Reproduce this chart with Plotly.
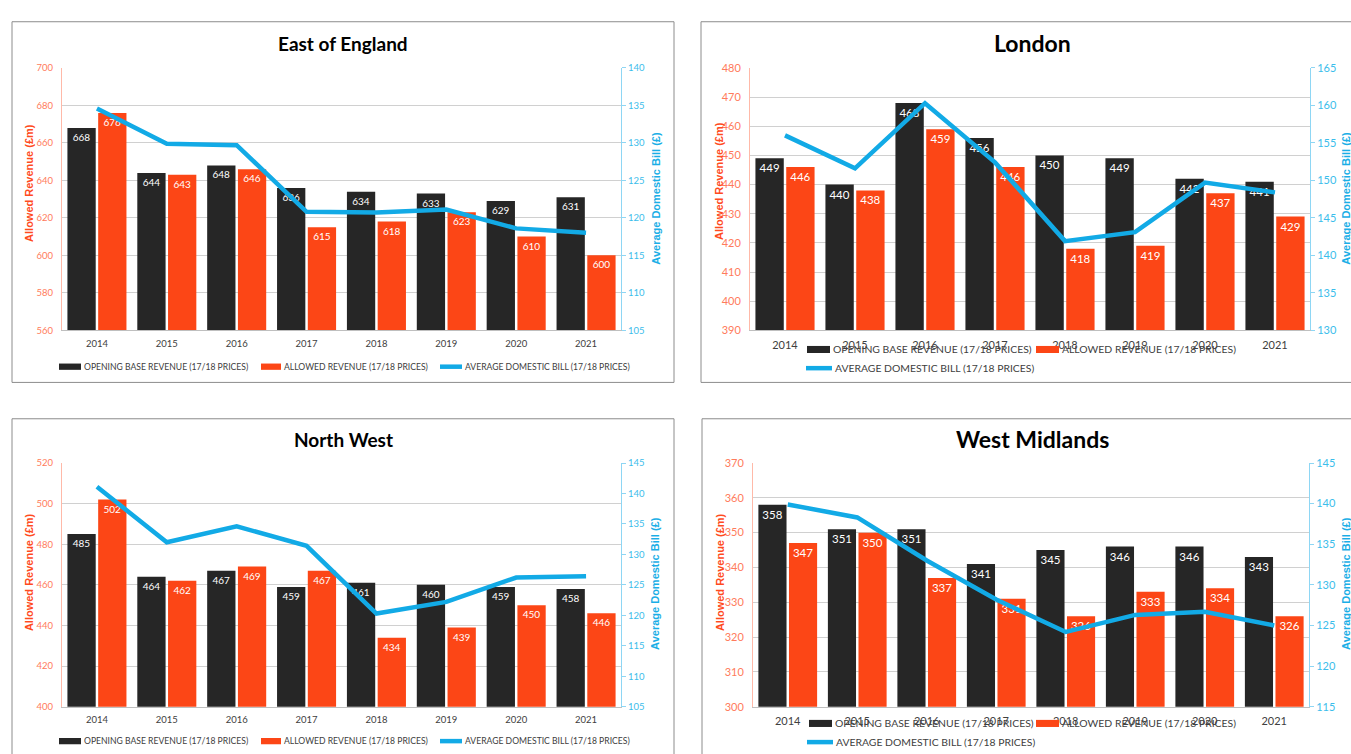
import plotly.graph_objects as go

# ---------------- data ----------------
years = ["2014", "2015", "2016", "2017", "2018", "2019", "2020", "2021"]

eoe_opening = [668, 644, 648, 636, 634, 633, 629, 631]
eoe_allowed = [676, 643, 646, 615, 618, 623, 610, 600]
eoe_bill = [134.6, 129.9, 129.7, 120.8, 120.7, 121.1, 118.6, 118.0]

lon_opening = [449, 440, 468, 456, 450, 449, 442, 441]
lon_allowed = [446, 438, 459, 446, 418, 419, 437, 429]
lon_bill = [156.0, 151.6, 160.3, 152.4, 141.9, 143.1, 149.7, 148.4]

nw_opening = [485, 464, 467, 459, 461, 460, 459, 458]
nw_allowed = [502, 462, 469, 467, 434, 439, 450, 446]
nw_bill = [141.1, 132.0, 134.6, 131.4, 120.3, 122.2, 126.2, 126.4]

wm_opening = [358, 351, 351, 341, 345, 346, 346, 343]
wm_allowed = [347, 350, 337, 331, 326, 333, 334, 326]
wm_bill = [139.9, 138.3, 133.0, 128.2, 124.2, 126.3, 126.7, 125.0]

titles = ["East of England", "London", "North West", "West Midlands"]
series_names = ["OPENING BASE REVENUE (17/18 PRICES)",
                "ALLOWED REVENUE (17/18 PRICES)",
                "AVERAGE DOMESTIC BILL (17/18 PRICES)"]
left_title = "Allowed Revenue (£m)"
right_title = "Average Domestic Bill (£)"

# ---------------- style ----------------
W, H = 1351, 754
NARROW = "Lato, Liberation Sans Narrow, DejaVu Sans Condensed, sans-serif"
SANS = "Liberation Sans, Arial, sans-serif"
C_BLACK = "#262626"
C_ORANGE = "#FC4616"
C_BLUE = "#12AAE6"
C_LTICK = "#FF7B5C"
C_LTITLE = "#FF4B1E"
C_RTICK = "#3BBDEB"
C_RTITLE = "#1AAEE6"
C_TEXT = "#404040"


def fx(px):
    return px / W


def fy(py):
    return 1 - py / H


panels = [
    dict(op=eoe_opening, al=eoe_allowed, bill=eoe_bill, lr=[560, 700], ldt=20, rr=[105, 140],
         box=(12, 15, 674, 382), area=(62, 62, 621, 329), title_xy=(343, 37),
         lt=(29, 179), rt=(656, 195), big=False,
         legend=[("bar", C_BLACK, 59, 81, 366, 82, 0), ("bar", C_ORANGE, 261, 281, 366, 282, 1),
                 ("line", C_BLUE, 440, 462, 366, 463, 2)]),
    dict(op=lon_opening, al=lon_allowed, bill=lon_bill, lr=[390, 480], ldt=10, rr=[130, 165],
         box=(701, 15, 1365, 382), area=(750, 62, 1310, 329), title_xy=(1032, 37),
         lt=(719, 177), rt=(1346, 195), big=True,
         legend=[("bar", C_BLACK, 807, 830, 348.5, 831, 0), ("bar", C_ORANGE, 1036, 1059, 348.5, 1060, 1),
                 ("line", C_BLUE, 806, 832, 367.5, 833, 2)]),
    dict(op=nw_opening, al=nw_allowed, bill=nw_bill, lr=[400, 520], ldt=20, rr=[105, 145],
         box=(12, 419, 674, 770), area=(62, 464, 621, 712), title_xy=(343, 440),
         lt=(29, 575), rt=(655, 587), big=False,
         legend=[("bar", C_BLACK, 59, 81, 747, 82, 0), ("bar", C_ORANGE, 261, 281, 747, 282, 1),
                 ("line", C_BLUE, 440, 462, 747, 463, 2)]),
    dict(op=wm_opening, al=wm_allowed, bill=wm_bill, lr=[300, 370], ldt=10, rr=[115, 145],
         box=(702, 419, 1365, 770), area=(753, 464, 1309, 712), title_xy=(1032, 440),
         lt=(720, 575), rt=(1346, 587), big=True,
         legend=[("bar", C_BLACK, 809, 832, 729, 833, 0), ("bar", C_ORANGE, 1036, 1059, 729, 1060, 1),
                 ("line", C_BLUE, 807, 833, 748, 834, 2)]),
]

fig = go.Figure()
layout = dict(
    width=W, height=H, autosize=False,
    margin=dict(l=0, r=0, t=0, b=0),
    paper_bgcolor="white", plot_bgcolor="white",
    barmode="group", bargap=0.12, bargroupgap=0.08,
    showlegend=False,
    shapes=[], annotations=[],
)

for i, p in enumerate(panels, start=1):
    xr = "x" if i == 1 else f"x{i}"
    nl, nr = 2 * i - 1, 2 * i
    ylr = "y" if nl == 1 else f"y{nl}"
    yrr = f"y{nr}"
    xkey = "xaxis" if i == 1 else f"xaxis{i}"
    ylkey = "yaxis" if nl == 1 else f"yaxis{nl}"
    yrkey = f"yaxis{nr}"
    big = p["big"]
    tick_fs = 11 if big else 9.5
    xtick_fs = 11 if big else 9.5
    data_fs = 11.5 if big else 10
    leg_fs = 10.4 if big else 8.6
    title_fs = 23 if big else 19

    ax0, ay0, ax1, ay1 = p["area"]

    fig.add_trace(go.Bar(
        x=years, y=p["op"], name=series_names[0], xaxis=xr, yaxis=ylr,
        marker=dict(color=C_BLACK, line=dict(width=0)), offsetgroup="a",
        text=p["op"], textposition="inside", insidetextanchor="end", textangle=0,
        textfont=dict(color="white", size=data_fs, family=NARROW),
    ))
    fig.add_trace(go.Bar(
        x=years, y=p["al"], name=series_names[1], xaxis=xr, yaxis=ylr,
        marker=dict(color=C_ORANGE, line=dict(width=0)), offsetgroup="b",
        text=p["al"], textposition="inside", insidetextanchor="end", textangle=0,
        textfont=dict(color="white", size=data_fs, family=NARROW),
    ))
    fig.add_trace(go.Scatter(
        x=years, y=p["bill"], name=series_names[2], xaxis=xr, yaxis=yrr,
        mode="lines", line=dict(color=C_BLUE, width=4.5),
    ))

    layout[xkey] = dict(
        domain=[fx(ax0), fx(ax1)], anchor=ylr, type="category",
        showline=True, linecolor="#BFBFBF", linewidth=1,
        ticks="outside", ticklen=4, tickcolor="rgba(0,0,0,0)",
        tickfont=dict(family=NARROW, size=xtick_fs, color=C_TEXT),
        showgrid=False, zeroline=False, fixedrange=True,
    )
    layout[ylkey] = dict(
        domain=[fy(ay1), fy(ay0)], anchor=xr, range=p["lr"], dtick=p["ldt"], tick0=0,
        showgrid=True, gridcolor="#D0D0D0", gridwidth=1,
        showline=True, linecolor="#FFB9A8", linewidth=1,
        ticks="outside", ticklen=6, tickcolor="rgba(0,0,0,0)",
        tickfont=dict(family=NARROW, size=tick_fs, color=C_LTICK),
        zeroline=False, fixedrange=True,
    )
    layout[yrkey] = dict(
        overlaying=ylr, side="right", anchor=xr, range=p["rr"], dtick=5, tick0=0,
        showgrid=False, showline=True, linecolor="#8ED6F4", linewidth=1,
        ticks="outside", ticklen=4, tickcolor="#8ED6F4",
        tickfont=dict(family=NARROW, size=tick_fs, color=C_RTICK),
        zeroline=False, fixedrange=True,
    )

    # panel border
    bx0, by0, bx1, by1 = p["box"]
    layout["shapes"].append(dict(
        type="rect", xref="paper", yref="paper",
        x0=fx(bx0), x1=fx(bx1), y0=fy(by1), y1=fy(by0),
        line=dict(color="#8C8C8C", width=1), fillcolor="rgba(0,0,0,0)", layer="below",
    ))
    # title
    tx, ty = p["title_xy"]
    layout["annotations"].append(dict(
        x=fx(tx), y=fy(ty), xref="paper", yref="paper", showarrow=False,
        text=f"<b>{titles[i-1]}</b>", font=dict(family=NARROW, size=title_fs, color="black"),
        xanchor="center", yanchor="middle",
    ))
    # axis titles
    lx, ly = p["lt"]
    layout["annotations"].append(dict(
        x=fx(lx), y=fy(ly), xref="paper", yref="paper", showarrow=False, textangle=-90,
        text=f"<b>{left_title}</b>", font=dict(family=SANS, size=11, color=C_LTITLE),
        xanchor="center", yanchor="middle",
    ))
    rx, ry = p["rt"]
    layout["annotations"].append(dict(
        x=fx(rx), y=fy(ry), xref="paper", yref="paper", showarrow=False, textangle=-90,
        text=f"<b>{right_title}</b>", font=dict(family=SANS, size=11, color=C_RTITLE),
        xanchor="center", yanchor="middle",
    ))
    # legend
    for kind, col, sx0, sx1, sy, tx0, idx in p["legend"]:
        if kind == "bar":
            hh = 3.2 if not big else 3.6
            layout["shapes"].append(dict(
                type="rect", xref="paper", yref="paper",
                x0=fx(sx0), x1=fx(sx1), y0=fy(sy + hh), y1=fy(sy - hh),
                line=dict(width=0), fillcolor=col,
            ))
        else:
            layout["shapes"].append(dict(
                type="line", xref="paper", yref="paper",
                x0=fx(sx0), x1=fx(sx1), y0=fy(sy), y1=fy(sy),
                line=dict(color=col, width=4.5),
            ))
        layout["annotations"].append(dict(
            x=fx(tx0), y=fy(sy), xref="paper", yref="paper", showarrow=False,
            text=series_names[idx], font=dict(family=NARROW, size=leg_fs, color=C_TEXT),
            xanchor="left", yanchor="middle",
        ))

fig.update_layout(**layout)
fig.write_html("out.html")
